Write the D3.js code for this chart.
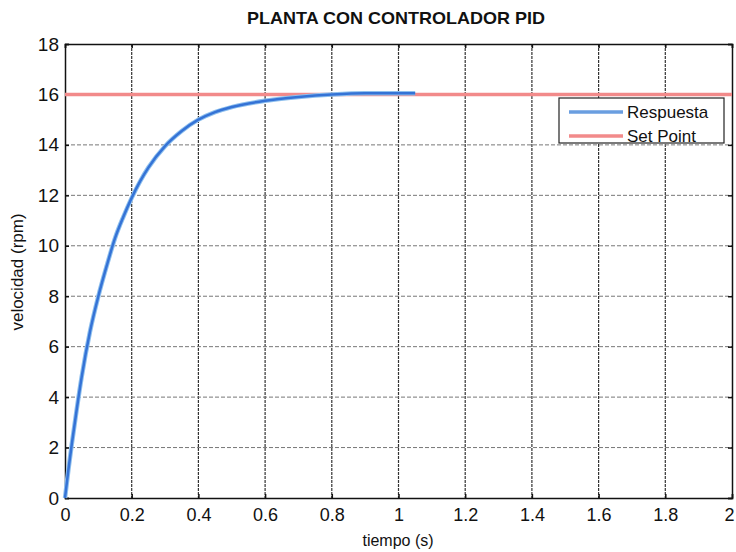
<!DOCTYPE html>
<html>
<head>
<meta charset="utf-8">
<script src="https://cdn.jsdelivr.net/npm/d3@7"></script>
<style>
  body { margin: 0; background: #fff; }
  svg { display: block; }
</style>
</head>
<body>
<div id="visual"></div>
<script>
// valores
const tiempo = [0, 0.01, 0.02, 0.035, 0.05, 0.075, 0.1, 0.125, 0.15, 0.175, 0.2, 0.225, 0.25, 0.3, 0.35, 0.4, 0.45, 0.5, 0.6, 0.7, 0.8, 0.9, 1.0, 1.05];
const respuesta = [0, 1.1, 2.1, 3.5, 4.8, 6.6, 8.0, 9.2, 10.3, 11.15, 11.9, 12.55, 13.1, 13.95, 14.55, 15.0, 15.3, 15.5, 15.75, 15.9, 16.0, 16.05, 16.05, 16.05];
const setPointT = [0, 2];
const setPointV = [16, 16];
const xTicks = [0, 0.2, 0.4, 0.6, 0.8, 1, 1.2, 1.4, 1.6, 1.8, 2];
const yTicks = [0, 2, 4, 6, 8, 10, 12, 14, 16, 18];

function draw() {
    const width = 736;
    const height = 552;
    const left = 65, right = 732, top = 44, bottom = 498;

    const svg = d3.select("#visual")
        .append("svg")
        .attr("width", width)
        .attr("height", height);

    const x = d3.scaleLinear().domain([0, 2]).range([left, right]);
    const y = d3.scaleLinear().domain([0, 18]).range([bottom, top]);

    // grid
    svg.append("g")
        .selectAll("line")
        .data(xTicks.slice(1, -1))
        .enter()
        .append("line")
        .attr("x1", d => x(d)).attr("x2", d => x(d))
        .attr("y1", top).attr("y2", bottom)
        .attr("stroke", "#333")
        .attr("stroke-width", 1.2)
        .attr("stroke-dasharray", "3,1");

    svg.append("g")
        .selectAll("line")
        .data(yTicks.slice(1, -1))
        .enter()
        .append("line")
        .attr("x1", left).attr("x2", right)
        .attr("y1", d => y(d)).attr("y2", d => y(d))
        .attr("stroke", "#777")
        .attr("stroke-width", 1)
        .attr("stroke-dasharray", "4,2");

    // axes
    const xAxis = svg.append("g")
        .attr("transform", "translate(0," + bottom + ")")
        .call(d3.axisBottom(x).tickValues(xTicks).tickSize(-4).tickPadding(10)
            .tickFormat(d3.format("~g")));
    const xAxisTop = svg.append("g")
        .attr("transform", "translate(0," + top + ")")
        .call(d3.axisTop(x).tickValues(xTicks).tickSize(-4).tickFormat(""));
    const yAxis = svg.append("g")
        .attr("transform", "translate(" + left + ",0)")
        .call(d3.axisLeft(y).tickValues(yTicks).tickSize(-4).tickPadding(6));
    const yAxisRight = svg.append("g")
        .attr("transform", "translate(" + right + ",0)")
        .call(d3.axisRight(y).tickValues(yTicks).tickSize(-4).tickFormat(""));

    [xAxis, xAxisTop, yAxis, yAxisRight].forEach(g => {
        g.select(".domain").attr("stroke", "#111").attr("stroke-width", 1.5);
        g.selectAll(".tick line").attr("stroke", "#111").attr("stroke-width", 1.5);
    });
    xAxis.selectAll("text")
        .attr("font-family", "'Liberation Sans', Arial, sans-serif")
        .attr("font-size", 18)
        .attr("fill", "#111");
    // el ultimo rotulo queda pegado al borde
    xAxis.selectAll(".tick:last-of-type text").attr("dx", -3);
    yAxis.selectAll("text")
        .attr("font-family", "'Liberation Sans', Arial, sans-serif")
        .attr("font-size", 19)
        .attr("fill", "#111");

    // series
    const line = d3.line()
        .x(d => x(d[0]))
        .y(d => y(d[1]))
        .curve(d3.curveMonotoneX);

    svg.append("path")
        .datum(setPointT.map((t, i) => [t, setPointV[i]]))
        .attr("d", line)
        .attr("fill", "none")
        .attr("stroke", "#f28a8a")
        .attr("stroke-width", 3.5);

    svg.append("path")
        .datum(tiempo.map((t, i) => [t, respuesta[i]]))
        .attr("d", line)
        .attr("fill", "none")
        .attr("stroke", "#8fc0ee")
        .attr("stroke-width", 4.5);
    svg.append("path")
        .datum(tiempo.map((t, i) => [t, respuesta[i]]))
        .attr("d", line)
        .attr("fill", "none")
        .attr("stroke", "#3573d6")
        .attr("stroke-width", 2.5);

    // legend
    const lg = svg.append("g");
    lg.append("rect")
        .attr("x", 559).attr("y", 98)
        .attr("width", 165).attr("height", 45)
        .attr("fill", "#fff")
        .attr("stroke", "#222")
        .attr("stroke-width", 1.2);
    const items = [["Respuesta", "#6a9ee0"], ["Set Point", "#f28a8a"]];
    items.forEach((it, i) => {
        const yy = 112 + i * 24;
        lg.append("line")
            .attr("x1", 569).attr("x2", 623)
            .attr("y1", yy).attr("y2", yy)
            .attr("stroke", it[1])
            .attr("stroke-width", 3.5);
        lg.append("text")
            .attr("x", 627).attr("y", yy + 6)
            .attr("font-family", "'Liberation Sans', Arial, sans-serif")
            .attr("font-size", 17)
            .attr("fill", "#111")
            .text(it[0]);
    });

    // titles
    svg.append("text")
        .attr("x", 396).attr("y", 24)
        .attr("text-anchor", "middle")
        .attr("font-family", "'Liberation Sans', Arial, sans-serif")
        .attr("font-weight", "bold")
        .attr("font-size", 17)
        .attr("textLength", 298)
        .attr("lengthAdjust", "spacingAndGlyphs")
        .attr("fill", "#111")
        .text("PLANTA CON CONTROLADOR PID");

    svg.append("text")
        .attr("x", 398).attr("y", 546)
        .attr("text-anchor", "middle")
        .attr("font-family", "'Liberation Sans', Arial, sans-serif")
        .attr("font-size", 16)
        .attr("fill", "#111")
        .text("tiempo (s)");

    svg.append("text")
        .attr("transform", "translate(23,272) rotate(-90)")
        .attr("text-anchor", "middle")
        .attr("font-family", "'Liberation Sans', Arial, sans-serif")
        .attr("font-size", 17)
        .attr("fill", "#111")
        .text("velocidad (rpm)");
}

draw();
</script>
</body>
</html>
